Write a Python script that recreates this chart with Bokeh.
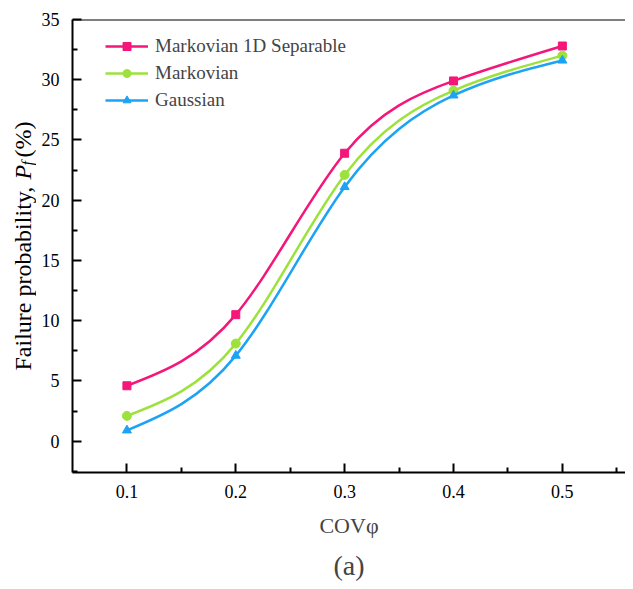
import numpy as np
from bokeh.plotting import figure
from bokeh.layouts import row
from bokeh.models import (Range1d, FixedTicker, Span, Title, Legend, LegendItem, Label)
from bokeh.embed import file_html
from bokeh.resources import INLINE

# ---- data ----
cov = [0.1, 0.2, 0.3, 0.4, 0.5]
markov_1d = [4.6, 10.5, 23.9, 29.9, 32.8]
markovian = [2.1, 8.1, 22.1, 29.1, 32.0]
gaussian = [0.9, 7.1, 21.1, 28.7, 31.6]
series_names = ["Markovian 1D Separable", "Markovian", "Gaussian"]
colors = ["#F5167A", "#9DE23C", "#1CA3F5"]
markers = ["square", "circle", "triangle"]
x_ticks = [0.1, 0.2, 0.3, 0.4, 0.5]
y_ticks = [0, 5, 10, 15, 20, 25, 30, 35]

FONT = "Liberation Serif"
LABEL_W = 36
H = 581
TOP, BOTTOM = 19, 109
FRAME_H = H - TOP - BOTTOM

p = figure(width=625 - LABEL_W, height=H, output_backend="svg", toolbar_location=None,
           x_range=Range1d(0.05, 0.558), y_range=Range1d(-2.6, 35),
           min_border_left=72 - LABEL_W, min_border_right=0, min_border_top=TOP,
           min_border_bottom=BOTTOM)
p.outline_line_color = None
p.grid.visible = False
p.background_fill_color = "white"
p.border_fill_color = "white"

for ax in (p.xaxis[0], p.yaxis[0]):
    ax.axis_line_width = 2
    ax.axis_line_color = "black"
    ax.major_tick_in = 9
    ax.major_tick_out = 0
    ax.minor_tick_in = 5
    ax.minor_tick_out = 0
    ax.major_tick_line_width = 2
    ax.minor_tick_line_width = 2
    ax.major_tick_line_color = "black"
    ax.minor_tick_line_color = "black"
    ax.major_label_text_font = FONT
    ax.major_label_text_font_size = "18px"
    ax.major_label_text_color = "black"

p.xaxis[0].ticker = FixedTicker(ticks=x_ticks, minor_ticks=[0.15, 0.25, 0.35, 0.45, 0.55])
p.yaxis[0].ticker = FixedTicker(ticks=y_ticks, minor_ticks=[-2.5 + 5 * i for i in range(8)])
p.xaxis[0].major_label_standoff = 12
p.yaxis[0].major_label_standoff = 13

p.add_layout(Span(location=35, dimension="width", line_color="black", line_width=2))

# spline through the points, drawn as cubic Bezier segments
def natural_spline_bezier(xs, ys):
    xs = np.asarray(xs, float); ys = np.asarray(ys, float)
    n = len(xs)
    h = np.diff(xs)
    A = np.zeros((n, n)); b = np.zeros(n)
    A[0, 0] = 1; A[-1, -1] = 1
    for i in range(1, n - 1):
        A[i, i - 1] = h[i - 1]; A[i, i] = 2 * (h[i - 1] + h[i]); A[i, i + 1] = h[i]
        b[i] = 6 * ((ys[i + 1] - ys[i]) / h[i] - (ys[i] - ys[i - 1]) / h[i - 1])
    M = np.linalg.solve(A, b)
    m = np.zeros(n)
    for i in range(n - 1):
        m[i] = (ys[i + 1] - ys[i]) / h[i] - h[i] * (2 * M[i] + M[i + 1]) / 6
    m[-1] = (ys[-1] - ys[-2]) / h[-1] + h[-1] * (M[-2] + 2 * M[-1]) / 6
    return dict(x0=xs[:-1], y0=ys[:-1], x1=xs[1:], y1=ys[1:],
                cx0=xs[:-1] + h / 3, cy0=ys[:-1] + h / 3 * m[:-1],
                cx1=xs[1:] - h / 3, cy1=ys[1:] - h / 3 * m[1:])

items = []
for name, ys, c, mk in zip(series_names, [markov_1d, markovian, gaussian], colors, markers):
    bz = natural_spline_bezier(cov, ys)
    rb = p.bezier(source=bz, x0="x0", y0="y0", x1="x1", y1="y1", cx0="cx0", cy0="cy0",
                  cx1="cx1", cy1="cy1", line_color=c, line_width=2.5)
    rs = p.scatter(cov, ys, marker=mk, size=9 if mk != "square" else 8,
                   fill_color=c, line_color=c)
    items.append(LegendItem(label=name, renderers=[rb, rs]))

legend = Legend(items=items, location=(33, 361), border_line_color=None,
                background_fill_alpha=0, padding=0, spacing=5, glyph_width=43,
                glyph_height=20, label_height=20, label_standoff=7,
                label_text_font=FONT, label_text_font_size="19px", margin=0)
p.add_layout(legend)

p.add_layout(Title(text="COVφ", align="center", offset=-6, text_font=FONT,
                   text_font_size="22px", text_font_style="normal", standoff=20), "below")
p.add_layout(Title(text="(a)", align="center", offset=-12, text_font=FONT,
                   text_font_size="28px", text_font_style="normal", standoff=0), "below")

# narrow companion figure holding the rotated y-axis title (italic P, subscript f);
# its frame spans the same rows as the main frame, 1 data unit = 1 pixel
lab = figure(width=LABEL_W, height=H, output_backend="svg", toolbar_location=None,
             x_range=Range1d(0, LABEL_W), y_range=Range1d(0, FRAME_H),
             min_border_left=0, min_border_right=0,
             min_border_top=TOP, min_border_bottom=BOTTOM)
lab.axis.visible = False
lab.grid.visible = False
lab.outline_line_color = None
lab.background_fill_color = "white"
lab.border_fill_color = "white"

lx, y0 = 22, 102
common = dict(angle=np.pi / 2, text_font=FONT, text_align="left", text_baseline="middle",
              text_color="black")
lab.add_layout(Label(x=lx, y=y0, text="Failure probability, ", text_font_size="24px", **common))
lab.add_layout(Label(x=lx, y=y0 + 191, text="P", text_font_size="24px",
                     text_font_style="italic", **common))
lab.add_layout(Label(x=lx + 5, y=y0 + 205, text="f", text_font_size="16px",
                     text_font_style="italic", **common))
lab.add_layout(Label(x=lx, y=y0 + 213, text="(%)", text_font_size="24px", **common))

layout = row(lab, p, spacing=0)
open("out.html", "w").write(file_html(layout, INLINE))
